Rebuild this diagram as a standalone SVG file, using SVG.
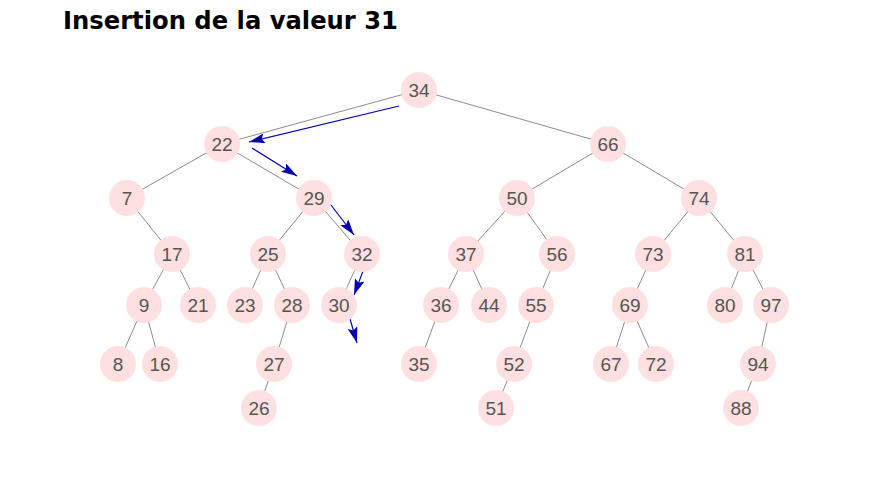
<svg xmlns="http://www.w3.org/2000/svg" width="879" height="490" viewBox="0 0 879 490">
<defs>
<marker id="ah" viewBox="0 0 16 10" refX="16" refY="5" markerWidth="16" markerHeight="10" markerUnits="userSpaceOnUse" orient="auto">
<path d="M0,0 L16,5 L0,10 L3,5 Z" fill="#0000b0"/>
</marker>
<style>
.e{stroke:#8c8c8c;stroke-width:1;fill:none}
.a{stroke:#0000b0;stroke-width:1.2;fill:none;marker-end:url(#ah)}
.n circle{fill:#ffe0e0}
.n text{font-family:"Liberation Sans",Arial,sans-serif;font-size:19px;fill:#555;text-anchor:middle}
.t{font-family:"DejaVu Sans","Liberation Sans",sans-serif;font-weight:bold;font-size:25px;fill:#000}
</style>
</defs>
<rect width="879" height="490" fill="#fff"/>
<text class="t" x="63" y="29" textLength="335" lengthAdjust="spacingAndGlyphs">Insertion de la valeur 31</text>
<g id="edges">
<line class="e" x1="419" y1="90" x2="222" y2="144"/>
<line class="e" x1="419" y1="90" x2="608" y2="144"/>
<line class="e" x1="222" y1="144" x2="127" y2="198"/>
<line class="e" x1="222" y1="144" x2="314" y2="198"/>
<line class="e" x1="608" y1="144" x2="517" y2="198"/>
<line class="e" x1="608" y1="144" x2="699" y2="198"/>
<line class="e" x1="127" y1="198" x2="172" y2="254"/>
<line class="e" x1="314" y1="198" x2="268" y2="254"/>
<line class="e" x1="314" y1="198" x2="362" y2="254"/>
<line class="e" x1="517" y1="198" x2="466" y2="254"/>
<line class="e" x1="517" y1="198" x2="557" y2="254"/>
<line class="e" x1="699" y1="198" x2="653" y2="254"/>
<line class="e" x1="699" y1="198" x2="745" y2="254"/>
<line class="e" x1="172" y1="254" x2="144" y2="305"/>
<line class="e" x1="172" y1="254" x2="198" y2="305"/>
<line class="e" x1="268" y1="254" x2="245" y2="305"/>
<line class="e" x1="268" y1="254" x2="292" y2="305"/>
<line class="e" x1="362" y1="254" x2="339" y2="305"/>
<line class="e" x1="466" y1="254" x2="441" y2="305"/>
<line class="e" x1="466" y1="254" x2="489" y2="305"/>
<line class="e" x1="557" y1="254" x2="536" y2="305"/>
<line class="e" x1="653" y1="254" x2="630" y2="305"/>
<line class="e" x1="745" y1="254" x2="725" y2="305"/>
<line class="e" x1="745" y1="254" x2="771" y2="305"/>
<line class="e" x1="144" y1="305" x2="118" y2="364"/>
<line class="e" x1="144" y1="305" x2="160" y2="364"/>
<line class="e" x1="292" y1="305" x2="274" y2="364"/>
<line class="e" x1="441" y1="305" x2="419" y2="364"/>
<line class="e" x1="536" y1="305" x2="514" y2="364"/>
<line class="e" x1="630" y1="305" x2="611" y2="364"/>
<line class="e" x1="630" y1="305" x2="656" y2="364"/>
<line class="e" x1="771" y1="305" x2="758" y2="364"/>
<line class="e" x1="274" y1="364" x2="259" y2="408"/>
<line class="e" x1="514" y1="364" x2="496" y2="408"/>
<line class="e" x1="758" y1="364" x2="741" y2="408"/>
<line class="a" x1="399" y1="106" x2="249" y2="142"/>
<line class="a" x1="252" y1="148" x2="297" y2="176"/>
<line class="a" x1="331" y1="205" x2="354" y2="235"/>
<line class="a" x1="363" y1="271" x2="354" y2="295"/>
<line class="a" x1="350" y1="319" x2="357" y2="343"/>
</g>
<g id="n34" class="n"><circle cx="419" cy="90" r="18"/><text x="419" y="97">34</text></g>
<g id="n22" class="n"><circle cx="222" cy="144" r="18"/><text x="222" y="151">22</text></g>
<g id="n66" class="n"><circle cx="608" cy="144" r="18"/><text x="608" y="151">66</text></g>
<g id="n7" class="n"><circle cx="127" cy="198" r="18"/><text x="127" y="205">7</text></g>
<g id="n29" class="n"><circle cx="314" cy="198" r="18"/><text x="314" y="205">29</text></g>
<g id="n50" class="n"><circle cx="517" cy="198" r="18"/><text x="517" y="205">50</text></g>
<g id="n74" class="n"><circle cx="699" cy="198" r="18"/><text x="699" y="205">74</text></g>
<g id="n17" class="n"><circle cx="172" cy="254" r="18"/><text x="172" y="261">17</text></g>
<g id="n25" class="n"><circle cx="268" cy="254" r="18"/><text x="268" y="261">25</text></g>
<g id="n32" class="n"><circle cx="362" cy="254" r="18"/><text x="362" y="261">32</text></g>
<g id="n37" class="n"><circle cx="466" cy="254" r="18"/><text x="466" y="261">37</text></g>
<g id="n56" class="n"><circle cx="557" cy="254" r="18"/><text x="557" y="261">56</text></g>
<g id="n73" class="n"><circle cx="653" cy="254" r="18"/><text x="653" y="261">73</text></g>
<g id="n81" class="n"><circle cx="745" cy="254" r="18"/><text x="745" y="261">81</text></g>
<g id="n9" class="n"><circle cx="144" cy="305" r="18"/><text x="144" y="312">9</text></g>
<g id="n21" class="n"><circle cx="198" cy="305" r="18"/><text x="198" y="312">21</text></g>
<g id="n23" class="n"><circle cx="245" cy="305" r="18"/><text x="245" y="312">23</text></g>
<g id="n28" class="n"><circle cx="292" cy="305" r="18"/><text x="292" y="312">28</text></g>
<g id="n30" class="n"><circle cx="339" cy="305" r="18"/><text x="339" y="312">30</text></g>
<g id="n36" class="n"><circle cx="441" cy="305" r="18"/><text x="441" y="312">36</text></g>
<g id="n44" class="n"><circle cx="489" cy="305" r="18"/><text x="489" y="312">44</text></g>
<g id="n55" class="n"><circle cx="536" cy="305" r="18"/><text x="536" y="312">55</text></g>
<g id="n69" class="n"><circle cx="630" cy="305" r="18"/><text x="630" y="312">69</text></g>
<g id="n80" class="n"><circle cx="725" cy="305" r="18"/><text x="725" y="312">80</text></g>
<g id="n97" class="n"><circle cx="771" cy="305" r="18"/><text x="771" y="312">97</text></g>
<g id="n8" class="n"><circle cx="118" cy="364" r="18"/><text x="118" y="371">8</text></g>
<g id="n16" class="n"><circle cx="160" cy="364" r="18"/><text x="160" y="371">16</text></g>
<g id="n27" class="n"><circle cx="274" cy="364" r="18"/><text x="274" y="371">27</text></g>
<g id="n35" class="n"><circle cx="419" cy="364" r="18"/><text x="419" y="371">35</text></g>
<g id="n52" class="n"><circle cx="514" cy="364" r="18"/><text x="514" y="371">52</text></g>
<g id="n67" class="n"><circle cx="611" cy="364" r="18"/><text x="611" y="371">67</text></g>
<g id="n72" class="n"><circle cx="656" cy="364" r="18"/><text x="656" y="371">72</text></g>
<g id="n94" class="n"><circle cx="758" cy="364" r="18"/><text x="758" y="371">94</text></g>
<g id="n26" class="n"><circle cx="259" cy="408" r="18"/><text x="259" y="415">26</text></g>
<g id="n51" class="n"><circle cx="496" cy="408" r="18"/><text x="496" y="415">51</text></g>
<g id="n88" class="n"><circle cx="741" cy="408" r="18"/><text x="741" y="415">88</text></g>
</svg>
